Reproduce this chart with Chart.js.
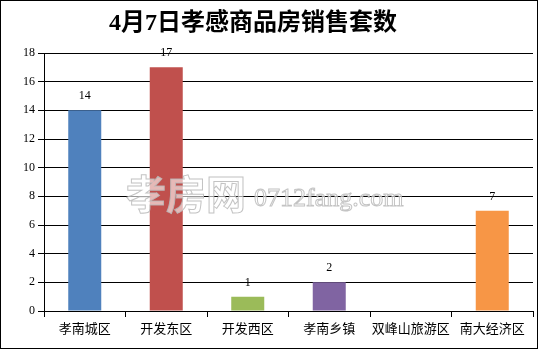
<!DOCTYPE html>
<html>
<head>
<meta charset="utf-8">
<script src="https://cdn.jsdelivr.net/npm/chart.js@4/dist/chart.umd.min.js"></script>
<style>
  body { margin: 0; background: #fff; }
  canvas { display: block; }
</style>
</head>
<body>
<canvas id="salesChart" width="538" height="349"></canvas>
<script>
const titleText = '4月7日孝感商品房销售套数';
const districts = ['孝南城区', '开发东区', '开发西区', '孝南乡镇', '双峰山旅游区', '南大经济区'];
const salesCount = [14, 17, 1, 2, 0, 7];
const barColors = ['#4F81BD', '#C0504D', '#9BBB59', '#8064A2', '#F79646', '#F79646'];
const yTicksMax = 18;
const yTicksStep = 2;

const numFont = '"Liberation Serif", "DejaVu Serif", serif';
const cjkFont = '"Noto Sans CJK SC", sans-serif';

// frame + title
const framePlugin = {
  id: 'frame',
  afterDraw(chart) {
    const ctx = chart.ctx;
    ctx.save();
    ctx.strokeStyle = '#000';
    ctx.lineWidth = 1;
    ctx.strokeRect(0.5, 0.5, chart.width - 1, chart.height - 1);
    ctx.fillStyle = '#000';
    ctx.font = 'bold 24px ' + numFont + ', ' + cjkFont;
    ctx.textAlign = 'center';
    ctx.textBaseline = 'middle';
    ctx.fillText(titleText, 253, 24);
    ctx.restore();
  }
};

// site watermark over the plot
const watermarkPlugin = {
  id: 'watermark',
  afterDatasetsDraw(chart) {
    const ctx = chart.ctx;
    ctx.save();
    ctx.lineWidth = 1;
    ctx.strokeStyle = 'rgba(185,185,185,0.85)';
    ctx.fillStyle = 'rgba(255,255,255,0.6)';
    ctx.textBaseline = 'alphabetic';
    ctx.textAlign = 'left';
    ctx.font = 'bold 40px ' + cjkFont;
    ctx.fillText('孝房网', 126, 209);
    ctx.strokeText('孝房网', 126, 209);
    ctx.font = '26px ' + numFont;
    ctx.fillText('0712fang.com', 254, 206);
    ctx.strokeText('0712fang.com', 254, 206);
    ctx.restore();
  }
};

// value labels above bars
const valueLabels = {
  id: 'valueLabels',
  afterDatasetsDraw(chart) {
    const ctx = chart.ctx;
    const meta = chart.getDatasetMeta(0);
    ctx.save();
    ctx.fillStyle = '#000';
    ctx.font = '12px ' + numFont;
    ctx.textAlign = 'center';
    ctx.textBaseline = 'middle';
    meta.data.forEach((bar, i) => {
      if (!salesCount[i]) return;
      ctx.fillText(String(salesCount[i]), bar.x, bar.y - 14);
    });
    ctx.restore();
  }
};

new Chart(document.getElementById('salesChart').getContext('2d'), {
  type: 'bar',
  data: {
    labels: districts,
    datasets: [{
      data: salesCount,
      backgroundColor: barColors,
      borderWidth: 0,
      barPercentage: 0.405,
      categoryPercentage: 1
    }]
  },
  options: {
    responsive: false,
    devicePixelRatio: 1,
    animation: false,
    layout: { padding: { top: 53, right: 5, bottom: 0, left: 0 } },
    plugins: {
      legend: { display: false },
      title: { display: false },
      tooltip: { enabled: false }
    },
    scales: {
      x: {
        afterFit(scale) { scale.height = 38; },
        grid: {
          offset: true,
          drawOnChartArea: false,
          drawTicks: true,
          tickLength: 6,
          color: '#000'
        },
        border: { color: '#000', width: 1 },
        ticks: {
          color: '#000',
          font: { family: cjkFont, size: 13 },
          padding: 3,
          maxRotation: 0,
          autoSkip: false
        }
      },
      y: {
        min: 0,
        max: yTicksMax,
        afterFit(scale) { scale.width = 44; },
        grid: { color: '#000', lineWidth: 1, tickLength: 6 },
        border: { color: '#000', width: 1 },
        ticks: {
          stepSize: yTicksStep,
          color: '#000',
          font: { family: numFont, size: 12 },
          padding: 3
        }
      }
    }
  },
  plugins: [watermarkPlugin, valueLabels, framePlugin]
});
</script>
</body>
</html>
